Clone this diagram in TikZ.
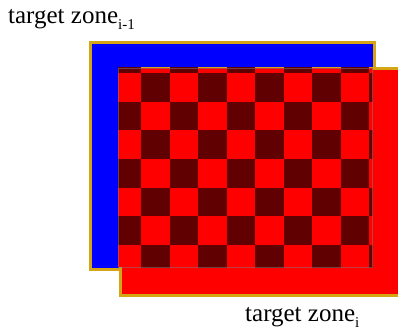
\documentclass[tikz,border=0pt]{standalone}
\usepackage{fontspec}
\setmainfont{Liberation Serif}
\definecolor{gold}{RGB}{212,166,22}
\definecolor{darkred}{RGB}{96,0,0}
\definecolor{pureblue}{RGB}{0,0,255}
\definecolor{purered}{RGB}{255,0,0}
\tikzset{
  zone/.style={draw=gold, line width=3pt},
  lbl/.style={anchor=base west, inner sep=0pt, font=\fontsize{25}{30}\selectfont},
}
\newcommand{\zsub}[1]{\raisebox{-6pt}{\fontsize{15}{15}\selectfont #1}}
\begin{document}
\begin{tikzpicture}[x=1pt,y=-1pt]
\useasboundingbox (0,0) rectangle (398,331);
\clip (0,0) rectangle (398,331);
% zone i-1 (blue)
\node[zone, fill=pureblue, minimum width=284.5pt, minimum height=227pt, inner sep=0pt, anchor=north west] (zprev) at (88.5,41) {};
% zone i (red)
\node[zone, fill=purered, minimum width=300pt, minimum height=227pt, inner sep=0pt, anchor=north west] (zcur) at (119,67) {};
% overlap checkerboard
\begin{scope}
\clip (118,68) rectangle (372.5,267);
\fill[purered] (118,68) rectangle (372.5,267);
\foreach \i in {-1,...,8}{
  \foreach \j in {-1,...,7}{
    \pgfmathtruncatemacro{\s}{mod(\i+\j+20,2)}
    \ifnum\s=0
      \fill[darkred] ({141+28.5*\i},{73.5+28.5*\j}) rectangle ++(28.5,28.5);
    \fi
  }
}
\end{scope}
\draw[gray, opacity=0.5, line width=0.8pt] (118,68) rectangle (372.5,267);
% labels
\node[lbl] (lprev) at (8,23.3) {target zone\zsub{i-1}};
\node[lbl] (lcur) at (245,321.7) {target zone\zsub{i}};
\end{tikzpicture}
\end{document}
